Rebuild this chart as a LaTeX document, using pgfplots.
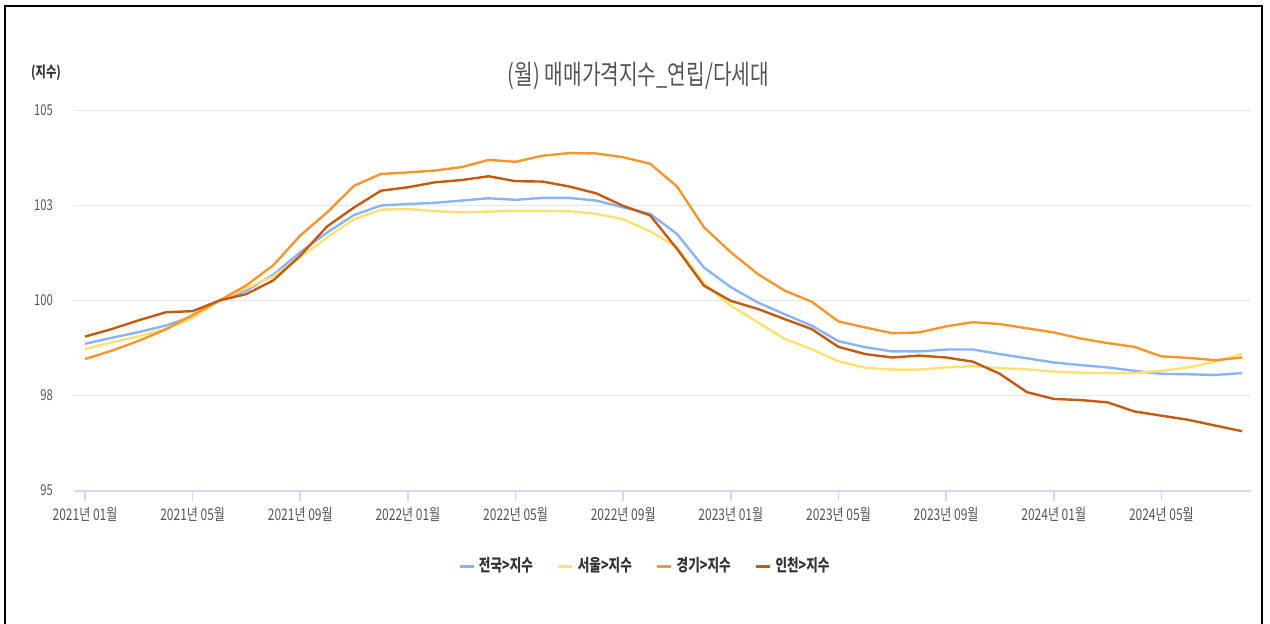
\documentclass[border=0pt]{standalone}
\usepackage{fontspec}
\setmainfont{Noto Sans CJK KR}[FakeStretch=0.75]
\usepackage{pgfplots}
\pgfplotsset{compat=1.18}
\usepackage{pgfplotstable}
\definecolor{cblue}{HTML}{8AB4F8}
\definecolor{cyellow}{HTML}{FFE173}
\definecolor{corange}{HTML}{F7962F}
\definecolor{cdark}{HTML}{C55A11}
\definecolor{axisc}{HTML}{D3DAEE}
\definecolor{gridc}{HTML}{E8E8E8}
\definecolor{txtc}{HTML}{555555}

\pgfplotstableread{
i  nat    seoul  gg     ic
0  98.86  98.72  98.46  99.05
1  99.02  98.90  98.68  99.25
2  99.17  99.06  98.94  99.48
3  99.34  99.25  99.24  99.69
4  99.58  99.53  99.62  99.72
5  100.00 100.00 100.00 100.00
6  100.26 100.33 100.40 100.17
7  100.68 100.63 100.93 100.53
8  101.27 101.14 101.71 101.18
9  101.79 101.66 102.32 101.95
10 102.25 102.14 103.02 102.45
11 102.50 102.39 103.33 102.89
12 102.54 102.41 103.37 102.98
13 102.57 102.35 103.42 103.11
14 102.63 102.32 103.51 103.17
15 102.69 102.34 103.70 103.27
16 102.65 102.36 103.65 103.14
17 102.70 102.36 103.81 103.13
18 102.70 102.35 103.88 103.00
19 102.63 102.28 103.87 102.82
20 102.45 102.14 103.77 102.49
21 102.28 101.82 103.60 102.24
22 101.75 101.40 103.00 101.36
23 100.87 100.46 101.93 100.39
24 100.35 99.86  101.27 99.99
25 99.95  99.43  100.70 99.78
26 99.64  98.99  100.26 99.51
27 99.34  98.72  99.97  99.25
28 98.93  98.40  99.45  98.78
29 98.77  98.23  99.29  98.59
30 98.66  98.18  99.14  98.50
31 98.66  98.18  99.16  98.55
32 98.71  98.24  99.32  98.50
33 98.71  98.27  99.43  98.39
34 98.59  98.22  99.38  98.07
35 98.48  98.19  99.27  97.59
36 98.37  98.13  99.16  97.41
37 98.30  98.10  99.00  97.38
38 98.24  98.09  98.88  97.32
39 98.15  98.09  98.78  97.08
40 98.07  98.15  98.53  96.97
41 98.06  98.24  98.49  96.86
42 98.04  98.39  98.43  96.71
43 98.09  98.59  98.50  96.56
}\datatable

\begin{document}
\begin{tikzpicture}
\useasboundingbox (0,0) rectangle (635pt,-311.5pt);
\draw[line width=1pt,black] (2.5pt,-320pt) -- (2.5pt,-3pt) -- (631pt,-3pt) -- (631pt,-320pt);
\node[text=txtc,font=\fontsize{13.5}{15}\selectfont] at (319.25pt,-38pt) {(월) 매매가격지수\_연립/다세대};
\node[text=black!80,font=\fontsize{7.5}{9}\selectfont\bfseries] at (23pt,-36.5pt) {(지수)};
\begin{axis}[
  at={(37pt,-245.25pt)}, anchor=south west, scale only axis,
  width=588.35pt, height=190pt,
  xmin=-0.409, xmax=43.32, ymin=95, ymax=105,
  ytick={95,97.5,100,102.5,105}, yticklabels={95,98,100,103,105},
  xtick={0,4,...,40},
  xticklabels={2021년 01월,2021년 05월,2021년 09월,2022년 01월,2022년 05월,2022년 09월,2023년 01월,2023년 05월,2023년 09월,2024년 01월,2024년 05월},
  axis x line*=bottom, axis y line*=left,
  y axis line style={draw=none},
  x axis line style={-, draw=axisc, line width=1pt},
  ymajorgrids, grid style={draw=gridc, line width=0.9pt},
  xtick style={draw=axisc, line width=0.8pt},
  ytick style={draw=none},
  major tick length=5pt, tick align=outside,
  /pgf/number format/assume math mode=true,
  ticklabel style={text=txtc},
  yticklabel style={font=\fontsize{7.5}{9}\selectfont, xshift=-2pt},
  xticklabel style={font=\fontsize{8}{9}\selectfont, yshift=0pt},
  legend columns=4,
  legend style={at={(0.486,-0.199)}, anchor=center, draw=none, fill=none,
    font=\fontsize{8.4}{10}\selectfont\bfseries, text=black!80,
    /tikz/every even column/.append style={column sep=10pt}},
  legend image code/.code={\draw[#1, line width=1.4pt] (0pt,0pt) -- (7pt,0pt);},
  every axis plot/.append style={line width=1.2pt, line join=round},
]
\addplot[cblue, mark=none] table[x=i,y=nat] {\datatable};
\addlegendentry{전국>지수}
\addplot[cyellow, mark=none] table[x=i,y=seoul] {\datatable};
\addlegendentry{서울>지수}
\addplot[corange, mark=none] table[x=i,y=gg] {\datatable};
\addlegendentry{경기>지수}
\addplot[cdark, mark=none] table[x=i,y=ic] {\datatable};
\addlegendentry{인천>지수}
\end{axis}
\end{tikzpicture}
\end{document}
